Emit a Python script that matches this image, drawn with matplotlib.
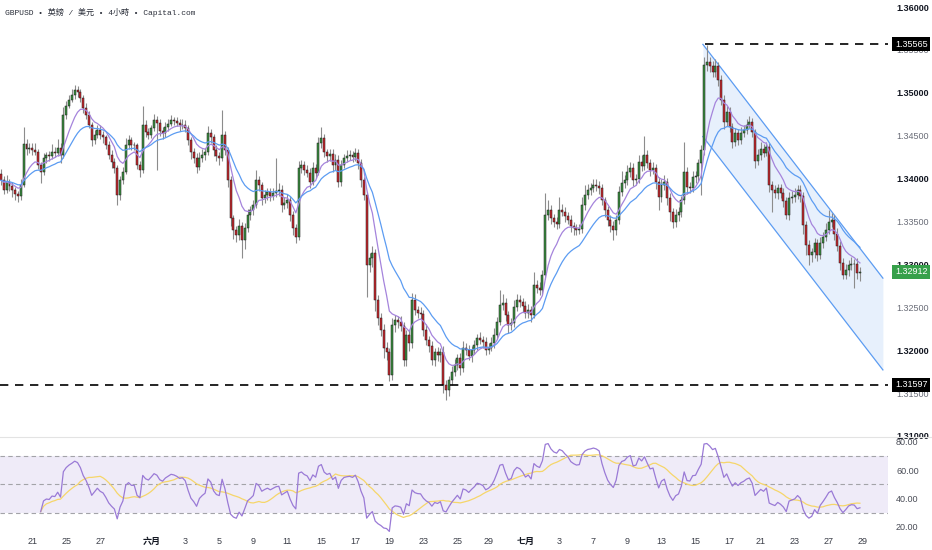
import numpy as np
import pandas as pd
import matplotlib
matplotlib.use("Agg")
import matplotlib.pyplot as plt
from matplotlib.lines import Line2D
import matplotlib.transforms as mtrans

plt.rcParams['font.family'] = ['Liberation Sans', 'Noto Sans CJK TC', 'DejaVu Sans']

# 4h closes GBPUSD left to right
closes = [
    1.3398, 1.3387, 1.3396, 1.3391, 1.3387, 1.3382, 1.3380, 1.3393, 1.3440, 1.3434, 1.3436,
    1.3433, 1.3431, 1.3416, 1.3408, 1.3424, 1.3427, 1.3426, 1.3431, 1.3430, 1.3436, 1.3427, 1.3474,
    1.3485, 1.3492, 1.3497, 1.3503, 1.3501, 1.3494, 1.3482, 1.3474, 1.3462, 1.3445, 1.3451, 1.3457,
    1.3451, 1.3448, 1.3439, 1.3427, 1.3419, 1.3412, 1.3381, 1.3398, 1.3408, 1.3439, 1.3445, 1.3439,
    1.3439, 1.3416, 1.3410, 1.3462, 1.3454, 1.3451, 1.3459, 1.3468, 1.3465, 1.3456, 1.3453, 1.3460,
    1.3464, 1.3468, 1.3467, 1.3465, 1.3462, 1.3463, 1.3459, 1.3445, 1.3431, 1.3424, 1.3414, 1.3424,
    1.3428, 1.3431, 1.3453, 1.3448, 1.3433, 1.3426, 1.3424, 1.3451, 1.3433, 1.3398, 1.3354, 1.3340,
    1.3334, 1.3345, 1.3328, 1.3342, 1.3358, 1.3363, 1.3369, 1.3398, 1.3392, 1.3377, 1.3381, 1.3384,
    1.3380, 1.3383, 1.3386, 1.3387, 1.3369, 1.3372, 1.3375, 1.3358, 1.3342, 1.3332, 1.3412, 1.3416,
    1.3410, 1.3407, 1.3396, 1.3412, 1.3407, 1.3441, 1.3447, 1.3431, 1.3426, 1.3429, 1.3416, 1.3422,
    1.3396, 1.3416, 1.3424, 1.3426, 1.3427, 1.3425, 1.3430, 1.3418, 1.3398, 1.3381, 1.3299, 1.3307,
    1.3313, 1.3258, 1.3238, 1.3224, 1.3203, 1.3198, 1.3171, 1.3229, 1.3235, 1.3233, 1.3228, 1.3189,
    1.3218, 1.3208, 1.3259, 1.3247, 1.3243, 1.3242, 1.3224, 1.3212, 1.3205, 1.3189, 1.3198, 1.3194,
    1.3198, 1.3159, 1.3154, 1.3165, 1.3175, 1.3183, 1.3191, 1.3179, 1.3203, 1.3200, 1.3193, 1.3200,
    1.3206, 1.3214, 1.3212, 1.3209, 1.3200, 1.3203, 1.3208, 1.3218, 1.3233, 1.3253, 1.3255, 1.3241,
    1.3229, 1.3232, 1.3250, 1.3258, 1.3256, 1.3251, 1.3243, 1.3247, 1.3241, 1.3276, 1.3272, 1.3270,
    1.3288, 1.3358, 1.3363, 1.3354, 1.3349, 1.3347, 1.3363, 1.3361, 1.3356, 1.3352, 1.3345, 1.3342,
    1.3340, 1.3341, 1.3369, 1.3381, 1.3387, 1.3389, 1.3392, 1.3391, 1.3389, 1.3375, 1.3363, 1.3352,
    1.3345, 1.3340, 1.3352, 1.3384, 1.3395, 1.3398, 1.3408, 1.3412, 1.3398, 1.3400, 1.3419, 1.3415,
    1.3427, 1.3418, 1.3410, 1.3412, 1.3396, 1.3379, 1.3392, 1.3396, 1.3377, 1.3361, 1.3350, 1.3358,
    1.3361, 1.3375, 1.3408, 1.3390, 1.3389, 1.3402, 1.3403, 1.3418, 1.3433, 1.3532, 1.3536, 1.3531,
    1.3524, 1.3531, 1.3515, 1.3492, 1.3466, 1.3478, 1.3460, 1.3443, 1.3453, 1.3445, 1.3453, 1.3457,
    1.3463, 1.3466, 1.3454, 1.3421, 1.3428, 1.3435, 1.3430, 1.3437, 1.3392, 1.3387, 1.3383, 1.3389,
    1.3383, 1.3374, 1.3358, 1.3377, 1.3379, 1.3381, 1.3387, 1.3380, 1.3346, 1.3323, 1.3311, 1.3314,
    1.3325, 1.3311, 1.3325, 1.3332, 1.3340, 1.3349, 1.3352, 1.3336, 1.3322, 1.3302, 1.3288, 1.3293,
    1.3299, 1.3301, 1.3300, 1.3290, 1.32912,
]
first_open = 1.3405

# wick length above / below the body, in pips
wick_up = [
    6, 5, 8, 4, 5, 3, 4, 6, 20, 6, 5,
    5, 8, 4, 3, 6, 4, 5, 9, 6, 10, 5, 9,
    6, 5, 7, 6, 5, 3, 4, 6, 5, 4, 6, 5,
    6, 4, 3, 5, 6, 5, 4, 5, 5, 8, 6, 4,
    4, 3, 5, 23, 6, 5, 4, 7, 5, 5, 4, 6,
    5, 6, 4, 5, 4, 6, 5, 3, 4, 5, 6, 7,
    6, 5, 8, 5, 4, 6, 5, 29, 5, 4, 5, 4,
    5, 8, 4, 6, 7, 5, 6, 12, 5, 4, 6, 5,
    5, 6, 38, 8, 5, 6, 7, 5, 4, 5, 9, 6,
    5, 6, 5, 7, 5, 8, 13, 5, 4, 6, 5, 7,
    5, 6, 5, 7, 6, 5, 6, 4, 5, 4, 3, 6,
    8, 5, 6, 5, 7, 6, 5, 9, 6, 5, 7, 5,
    6, 5, 8, 6, 5, 7, 5, 6, 4, 6, 5, 6,
    5, 7, 6, 5, 6, 7, 5, 6, 8, 5, 6, 5,
    6, 5, 7, 5, 6, 5, 7, 8, 6, 17, 10, 6,
    5, 6, 8, 7, 6, 5, 6, 7, 5, 15, 6, 7,
    5, 25, 12, 6, 5, 6, 15, 7, 6, 5, 6, 5,
    5, 6, 9, 11, 7, 6, 8, 7, 6, 5, 4, 5,
    5, 6, 5, 7, 14, 6, 8, 7, 6, 5, 9, 8,
    23, 6, 5, 7, 5, 6, 7, 8, 5, 6, 5, 7,
    6, 5, 35, 5, 6, 7, 6, 5, 6, 10, 20, 6,
    6, 8, 5, 6, 5, 7, 6, 5, 6, 5, 7, 6,
    6, 7, 5, 4, 6, 8, 5, 6, 4, 5, 6, 5,
    5, 6, 4, 7, 6, 8, 6, 5, 4, 5, 6, 5,
    6, 5, 7, 6, 8, 14, 8, 5, 6, 5, 6, 7, 6, 8, 5, 7, 6,
]
wick_dn = [
    6, 5, 4, 6, 8, 7, 7, 5, 3, 6, 4,
    6, 4, 5, 13, 4, 6, 5, 3, 5, 4, 9, 3,
    4, 3, 3, 4, 6, 5, 6, 4, 3, 7, 5, 4,
    5, 6, 5, 4, 7, 5, 12, 6, 4, 3, 5, 6,
    6, 5, 8, 3, 6, 5, 4, 4, 55, 6, 7, 4,
    4, 3, 5, 4, 6, 4, 5, 6, 8, 6, 7, 4,
    5, 6, 3, 6, 7, 5, 8, 4, 6, 8, 9, 10,
    8, 6, 20, 10, 4, 6, 5, 3, 6, 8, 5, 6,
    6, 5, 4, 6, 8, 5, 6, 7, 8, 7, 4, 6,
    6, 5, 7, 4, 6, 3, 5, 6, 7, 5, 8, 6,
    6, 5, 4, 5, 4, 6, 5, 7, 8, 6, 37, 8,
    10, 12, 9, 8, 12, 10, 7, 6, 8, 7, 6, 8,
    7, 9, 5, 6, 5, 6, 8, 6, 7, 6, 8, 7,
    8, 9, 12, 7, 6, 5, 6, 8, 5, 6, 5, 7,
    5, 6, 5, 7, 6, 5, 4, 6, 5, 4, 6, 7,
    9, 6, 5, 4, 6, 7, 5, 6, 8, 4, 5, 6,
    4, 5, 6, 7, 5, 6, 4, 5, 6, 5, 7, 8,
    6, 5, 4, 6, 5, 6, 5, 6, 7, 6, 8, 7,
    7, 12, 6, 5, 4, 6, 5, 6, 7, 6, 5, 6,
    5, 6, 7, 5, 8, 16, 6, 5, 8, 10, 8, 6,
    7, 6, 5, 8, 6, 5, 7, 6, 37, 5, 6, 7,
    5, 6, 7, 6, 8, 5, 6, 7, 5, 6, 5, 4,
    5, 4, 6, 9, 5, 6, 5, 4, 8, 26, 6, 7,
    6, 7, 5, 6, 5, 6, 5, 7, 10, 12, 12, 8,
    6, 7, 5, 6, 5, 4, 5, 7, 6, 8, 5, 5, 6, 6, 27, 7, 9,
]

tick_pos = [11, 23, 35, 53, 65, 77, 89, 101, 113, 125, 137, 149, 161,
            172, 185, 197, 209, 221, 233, 245, 257, 268, 280, 292, 304]
tick_lab = ['21', '25', '27', '六月', '3', '5', '9', '11', '15', '17', '19', '23', '25',
            '29', '七月', '3', '7', '9', '13', '15', '17', '21', '23', '27', '29']

chan_x = [247.6, 311.1]
chan_top = [1.35565, 1.3284]
chan_bot = [1.3449, 1.3177]
res_level = 1.35565
sup_level = 1.31597
res_start = 248.3

n = min(len(closes), len(wick_up), len(wick_dn))
c = np.array(closes[:n])
o = np.r_[first_open, c[:-1]]
hi = np.maximum(o, c) + np.array(wick_up[:n]) * 1e-4
lo = np.minimum(o, c) - np.array(wick_dn[:n]) * 1e-4
idx = np.arange(n)
last_price = c[-1]

s = pd.Series(c)
ma_fast = s.ewm(span=9, adjust=False).mean()
ma_slow = s.ewm(span=20, adjust=False).mean()
d = s.diff()
g = d.clip(lower=0).ewm(alpha=1 / 14, adjust=False, min_periods=14).mean()
l = (-d.clip(upper=0)).ewm(alpha=1 / 14, adjust=False, min_periods=14).mean()
rsi = 100 - 100 / (1 + g / l)
rsi_ma = rsi.rolling(14, min_periods=1).mean()

W, H = 932, 550
fig = plt.figure(figsize=(W / 100, H / 100), dpi=100)
right = 888 / W
ax = fig.add_axes([0, 1 - 437 / H, right, 437 / H])
ax2 = fig.add_axes([0, 1 - 535 / H, right, 98 / H])

xlim = (-0.35, 312.9)

# candles
ax.vlines(idx, lo, hi, color='#8c8c8c', lw=0.8, zorder=2)
up_mask = c >= o
body = np.maximum(np.abs(c - o), 0.00004)
ax.bar(idx, body, bottom=np.minimum(o, c), width=0.7,
       color=np.where(up_mask, '#3b8f40', '#c8282e'),
       edgecolor='#1c1c1c', linewidth=0.35, zorder=3)

ax.plot(idx, ma_fast, color='#a584dc', lw=0.9, zorder=4)
ax.plot(idx, ma_slow, color='#5c9cf2', lw=0.9, zorder=4)

# channel
ax.fill_between(chan_x, chan_bot, chan_top, color='#e7f0fc', zorder=0.5, lw=0)
ax.plot(chan_x, chan_top, color='#5c9cf2', lw=0.9, zorder=1)
ax.plot(chan_x, chan_bot, color='#5c9cf2', lw=0.9, zorder=1)

ax.hlines(res_level, res_start, xlim[1], colors='black', linestyles=(0, (5, 4)), lw=1.2, zorder=5)
ax.hlines(sup_level, xlim[0], xlim[1], colors='black', linestyles=(0, (5, 4)), lw=1.2, zorder=5)

ax.set_xlim(*xlim)
ax.set_ylim(1.30988, 1.36082)
yt = np.round(np.arange(1.310, 1.3601, 0.005), 3)
ax.set_yticks(yt)
ax.set_yticklabels([f'{v:.5f}' for v in yt])
ax.yaxis.tick_right()
ax.tick_params(axis='y', length=0, pad=5.8, labelsize=6.5)
ax.tick_params(axis='x', length=0, labelbottom=False)
for v, lab in zip(yt, ax.get_yticklabels()):
    if round(v * 1000) % 10 == 0:
        lab.set_color('#131722')
        lab.set_fontweight('bold')
    else:
        lab.set_color('#6a6d78')
for sp in ax.spines.values():
    sp.set_visible(False)

blend = mtrans.blended_transform_factory(ax.transAxes, ax.transData)
for lvl, fc in [(res_level, 'black'), (last_price, '#36a04a'), (sup_level, 'black')]:
    ax.annotate(f'{lvl:.5f}', xy=(1, lvl), xycoords=blend, xytext=(5.0, 0),
                textcoords='offset points', ha='left', va='center', fontsize=6.5,
                color='white', annotation_clip=False, zorder=10,
                bbox=dict(boxstyle='square,pad=0.28', fc=fc, ec='none'))

# RSI pane
ax2.axhspan(30, 70, color='#efebf8', lw=0, zorder=0)
for lvl in (70, 50, 30):
    ax2.axhline(lvl, color='#a3a3a8', lw=0.8, ls=(0, (4, 3)), zorder=1)
ax2.plot(idx, rsi, color='#9a7ad6', lw=0.9, zorder=3)
ax2.plot(idx, rsi_ma, color='#f6d66a', lw=0.9, zorder=2)
ax2.set_xlim(*xlim)
ax2.set_ylim(14.35, 83.5)
ax2.set_yticks([20, 40, 60, 80])
ax2.set_yticklabels(['20.00', '40.00', '60.00', '80.00'])
ax2.yaxis.tick_right()
ax2.tick_params(axis='y', length=0, pad=5.8, labelsize=6.5, labelcolor='#4a4d57')
ax2.set_xticks(tick_pos)
ax2.set_xticklabels(tick_lab)
ax2.tick_params(axis='x', length=0, pad=1.5, labelsize=6.5, labelcolor='#3a3d47')
for lab in ax2.get_xticklabels():
    if '月' in lab.get_text():
        lab.set_fontweight('bold')
        lab.set_color('#131722')
for sp in ax2.spines.values():
    sp.set_visible(False)

fig.add_artist(Line2D([0, 1], [1 - 437 / H, 1 - 437 / H], transform=fig.transFigure,
                      color='#e3e3e3', lw=0.8))

fig.text(5 / W, 1 - 12 / H, 'GBPUSD • 英鎊 / 美元 • 4小時 • Capital.com',
         family=['Liberation Mono', 'Noto Sans CJK TC', 'DejaVu Sans'],
         fontsize=5.8, color='#2a2e39', va='center', ha='left')

fig.savefig('out.png', dpi=100)
